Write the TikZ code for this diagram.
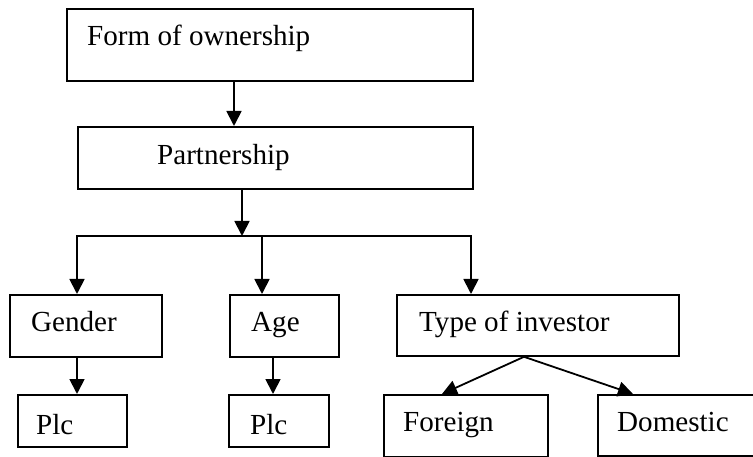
\documentclass[tikz,border=0pt]{standalone}
\usepackage{fontspec}
\setmainfont{Liberation Serif}
\usetikzlibrary{arrows.meta}
% framed box from (x1,y1) to (x2,y2) with its text set at a given base point
\newcommand\boxwithtext[8]{%
  \node[box, minimum width={(#4-#2)*1pt}, minimum height={(#5-#3)*1pt}] (#1) at (#2,#3) {};
  \node[lbl] (#1-text) at (#6,#7) {#8};}
\begin{document}
\begin{tikzpicture}[x=1pt,y=-1pt,
  box/.style={draw, line width=1.8pt, rectangle, anchor=north west, inner sep=0pt},
  lbl/.style={anchor=base west, inner sep=0pt, font=\fontsize{29.1}{35}\selectfont},
  arr/.style={line width=1.8pt, -{Triangle[length=15pt,width=15pt]}},
  bar/.style={line width=1.8pt, line cap=rect}]
\useasboundingbox (0,0) rectangle (753,457);

% boxes
\boxwithtext{form}{66}{8}{472}{80}{87}{46}{Form of ownership}
\boxwithtext{partner}{77}{126}{472}{188}{157}{165}{Partnership}
\boxwithtext{gender}{9}{294}{161}{356}{31}{332}{Gender}
\boxwithtext{age}{229}{294}{338}{356}{251}{332}{Age}
\boxwithtext{type}{396}{294}{678}{355}{419}{331}{Type of investor}
\boxwithtext{plcA}{17}{394}{126}{446}{36}{434}{Plc}
\boxwithtext{plcB}{228}{394}{328}{446}{250}{434}{Plc}
\boxwithtext{foreign}{383}{394}{547}{456}{403}{431}{Foreign}
\boxwithtext{domestic}{597}{394}{757}{455}{617}{431}{Domestic}

% connector positions
\coordinate (fx) at (234,0);
\coordinate (jP) at (242,236);
\coordinate (jL) at (77,236);
\coordinate (jA) at (262,236);
\coordinate (jR) at (471,236);
\coordinate (ax) at (273,0);
\coordinate (tx) at (524,0);
\coordinate (fk) at (442,0);
\coordinate (dk) at (633,0);

% connectors
\draw[arr] (form.south -| fx) -- (partner.north -| fx);
\draw[arr] (partner.south -| jP) -- (jP);
\draw[bar] (jL) -- (jR);
\draw[arr] (jL) -- (gender.north -| jL);
\draw[arr] (jA) -- (age.north -| jA);
\draw[arr] (jR) -- (type.north -| jR);
\draw[arr] (gender.south -| jL) -- (plcA.north -| jL);
\draw[arr] (age.south -| ax) -- (plcB.north -| ax);
\draw[arr] (type.south -| tx) -- (foreign.north -| fk);
\draw[arr] (type.south -| tx) -- (domestic.north -| dk);
\end{tikzpicture}
\end{document}
